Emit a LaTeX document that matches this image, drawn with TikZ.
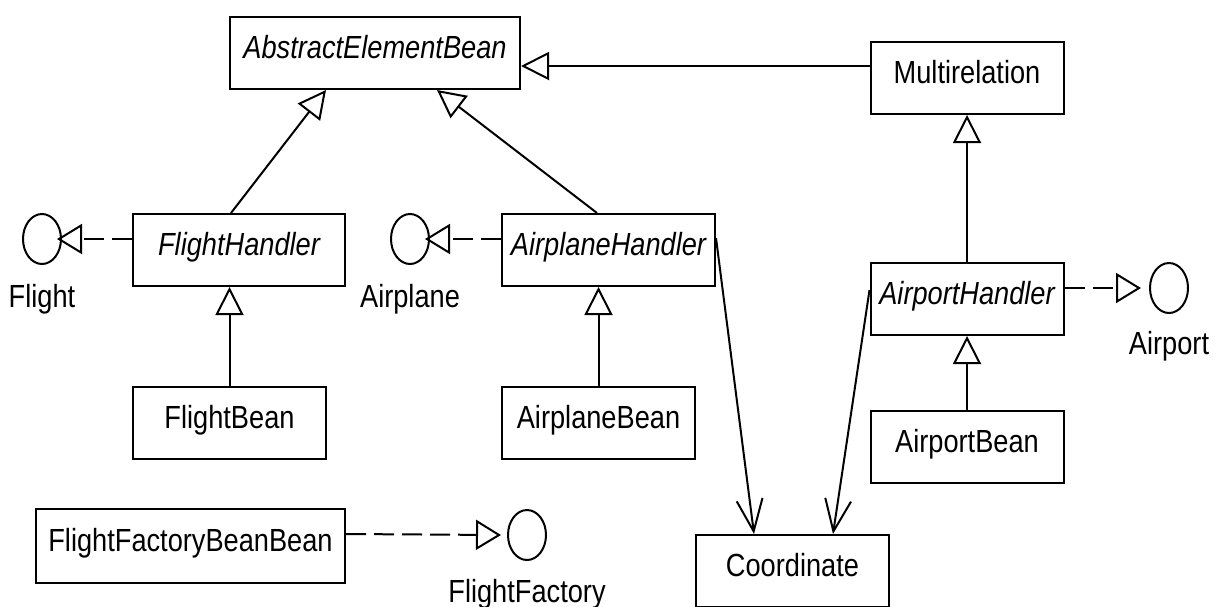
\documentclass[tikz,border=0pt]{standalone}
\usepackage{fontspec}
\setmainfont[FakeStretch=0.85]{Liberation Sans}
\usetikzlibrary{arrows.meta,positioning,shapes.geometric}

\begin{document}
\begin{tikzpicture}[x=0.5pt, y=-0.5pt, line width=1pt,
  font=\fontsize{16}{19}\selectfont,
  cls/.style={draw, rectangle, minimum height=36pt, minimum width=96.5pt,
    text height=9pt, text depth=3.5pt, inner sep=0pt},
  abs/.style={cls, font=\fontsize{16}{19}\selectfont\itshape},
  iface/.style={draw, ellipse, minimum width=19pt, minimum height=25pt, inner sep=0pt},
  iname/.style={inner sep=0pt},
  inherit/.style={-{Triangle[open, length=14pt, width=14pt]}},
  realize/.style={dash pattern=on 10pt off 4pt, -{Triangle[open, length=12.5pt, width=15pt]}},
  assoc/.style={-{Straight Barb[length=16pt, width=13pt]}}]
  \useasboundingbox (0,0) rectangle (1219,606);
  % classes
  \node[abs, minimum width=145pt] (aeb) at (375,53) {AbstractElementBean};
  \node[cls] (multi) at (967,78) {Multirelation};
  \node[abs, minimum width=106pt] (flighth) at (239,250) {FlightHandler};
  \node[abs, minimum width=106.5pt] (airplaneh) at (608.5,250) {AirplaneHandler};
  \node[abs] (airporth) at (967,299) {AirportHandler};
  \node[cls] (flightb) at (229.5,423) {FlightBean};
  \node[cls] (airplaneb) at (598.5,423) {AirplaneBean};
  \node[cls] (airportb) at (967,447) {AirportBean};
  \node[cls, minimum width=154.5pt, minimum height=37pt] (ffbb) at (190.5,546) {FlightFactoryBeanBean};
  \node[cls] (coord) at (792.5,571) {Coordinate};
  % interfaces
  \node[iface] (flighti) at (42,239) {};
  \node[iface] (airplanei) at (410,239) {};
  \node[iface] (airporti) at (1169,288) {};
  \node[iface] (factoryi) at (527,535) {};
  \node[iname, below=9pt of flighti] (flightl) {Flight};
  \node[iname, below=9pt of airplanei] (airplanel) {Airplane};
  \node[iname, below=8pt of airporti] (airportl) {Airport};
  \node[iname, below=8.5pt of factoryi] (factoryl) {FlightFactory};
  % generalization
  \draw[inherit] ([xshift=-4pt]flighth.north) -- ([xshift=-24.5pt]aeb.south);
  \draw[inherit] ([xshift=-5.75pt]airplaneh.north) -- ([xshift=31pt]aeb.south);
  \draw[inherit] ([yshift=6pt]multi.west) -- ([yshift=-6.5pt]aeb.east);
  \draw[inherit] (airporth) -- (multi);
  \draw[inherit] (flightb.north) -- (flightb.north |- flighth.south);
  \draw[inherit] (airplaneb.north) -- (airplaneb.north |- airplaneh.south);
  \draw[inherit] (airportb) -- (airporth);
  % realization
  \draw[realize] ([yshift=5.5pt]flighth.west) -- ([xshift=-2.5pt]flighti.east);
  \draw[realize] ([yshift=5.5pt]airplaneh.west) -- ([xshift=-2.5pt]airplanei.east);
  \draw[realize] ([yshift=5.5pt]airporth.east) -- ([xshift=-4pt]airporti.west);
  \draw[realize] ([yshift=6pt]ffbb.east) -- ([xshift=-3pt]factoryi.west);
  % association
  \draw[assoc] ([yshift=6pt]airplaneh.east) -- ([xshift=-19.25pt]coord.north);
  \draw[assoc] ([yshift=4.5pt]airporth.west) -- ([xshift=20.25pt]coord.north);
\end{tikzpicture}
\end{document}
